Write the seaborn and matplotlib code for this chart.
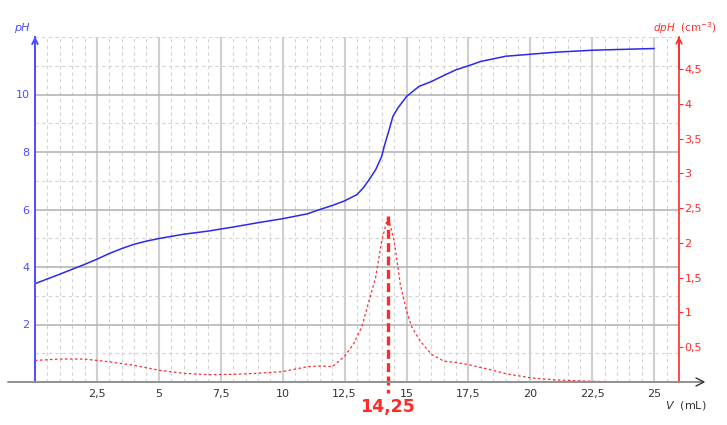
import matplotlib
matplotlib.use("Agg")
import matplotlib.pyplot as plt
import matplotlib.transforms as mtransforms
from matplotlib.ticker import MultipleLocator, FixedLocator, FixedFormatter
import pandas as pd
import seaborn as sns

# courbe pH = f(V)
v_ph = [0, 1, 2, 2.5, 3, 3.5, 4, 4.5, 5, 6, 7, 8, 9, 10, 11, 11.5, 12, 12.5, 13,
        13.25, 13.5, 13.75, 14, 14.1, 14.3, 14.45, 14.65, 15, 15.5, 16, 16.5, 17,
        17.5, 18, 19, 20, 21, 22.5, 23.75, 25]
ph = [3.42, 3.75, 4.09, 4.27, 4.47, 4.64, 4.79, 4.90, 4.99, 5.14, 5.25, 5.39, 5.54,
      5.68, 5.85, 6.0, 6.14, 6.3, 6.52, 6.75, 7.05, 7.38, 7.85, 8.2, 8.78, 9.24,
      9.53, 9.93, 10.28, 10.45, 10.66, 10.86, 11.0, 11.15, 11.33, 11.40, 11.47,
      11.54, 11.57, 11.6]

# courbe derivee dpH/dV
v_dph = [0, 1, 2, 2.5, 3, 4, 5, 6, 7, 8, 9, 10, 11, 11.5, 12, 12.5, 12.85, 13.2,
         13.45, 13.75, 14, 14.25, 14.5, 14.75, 15, 15.2, 15.55, 16, 16.5, 17, 17.5,
         18.35, 19, 20, 21, 22.5, 23.75, 25]
dph = [0.31, 0.33, 0.33, 0.31, 0.29, 0.24, 0.17, 0.125, 0.105, 0.11, 0.125, 0.15,
       0.22, 0.23, 0.22, 0.37, 0.54, 0.80, 1.12, 1.5, 2.03, 2.38, 2.03, 1.40, 1.02,
       0.80, 0.59, 0.40, 0.30, 0.28, 0.25, 0.18, 0.12, 0.06, 0.03, 0.01, 0.0, 0.0]

v_eq = 14.25
v_eq_label = "14,25"

x_ticks = [2.5, 5, 7.5, 10, 12.5, 15, 17.5, 20, 22.5, 25]
x_labels = ["2,5", "5", "7,5", "10", "12,5", "15", "17,5", "20", "22,5", "25"]
ph_ticks = [2, 4, 6, 8, 10]
dph_ticks = [0.5, 1, 1.5, 2, 2.5, 3, 3.5, 4, 4.5]
dph_labels = ["0,5", "1", "1,5", "2", "2,5", "3", "3,5", "4", "4,5"]

df_ph = pd.DataFrame({"V": v_ph, "pH": ph})
df_dph = pd.DataFrame({"V": v_dph, "dpH": dph})

sns.set_theme(style="white")
plt.rcParams["font.family"] = ["DejaVu Sans"]

blue = "#2a2aee"
blue_ax = "#4d4dff"
red = "#ff2a2a"

fig = plt.figure(figsize=(7.27, 4.25), dpi=100)
ax = fig.add_axes([35 / 727, 43 / 425, 644 / 727, 345 / 425])
ax.set_xlim(0, 26)
ax.set_ylim(0, 12)

# grille
ax.xaxis.set_major_locator(FixedLocator(x_ticks))
ax.xaxis.set_major_formatter(FixedFormatter(x_labels))
ax.xaxis.set_minor_locator(MultipleLocator(0.5))
ax.yaxis.set_major_locator(FixedLocator(ph_ticks))
ax.yaxis.set_minor_locator(MultipleLocator(1))
ax.grid(which="minor", color="#d2d2d2", linestyle=(0, (3, 3)), linewidth=0.8)
ax.grid(which="major", axis="x", color="#cfcfcf", linewidth=1.5)
ax.grid(which="major", axis="y", color="#b0b0b0", linewidth=1.1)
ax.set_axisbelow(True)

sns.lineplot(data=df_ph, x="V", y="pH", ax=ax, color=blue, linewidth=1.1,
             estimator=None)

for s in ["top", "right", "bottom"]:
    ax.spines[s].set_visible(False)
ax.spines["left"].set_color(blue_ax)
ax.spines["left"].set_linewidth(1.4)
ax.tick_params(axis="y", which="both", length=0, pad=4, colors=blue_ax, labelsize=8)
ax.tick_params(axis="x", which="both", length=0, pad=5, colors="#333333", labelsize=8)
ax.set_xlabel("")
ax.set_ylabel("")

# axe derive
ax2 = ax.twinx()
ax2.set_ylim(0, 4.96)
sns.lineplot(data=df_dph, x="V", y="dpH", ax=ax2, color=red, linewidth=0.9,
             linestyle=(0, (2, 2)), estimator=None)
ax2.set_xlim(0, 26)
ax2.yaxis.set_major_locator(FixedLocator(dph_ticks))
ax2.yaxis.set_major_formatter(FixedFormatter(dph_labels))
for s in ["top", "left", "bottom"]:
    ax2.spines[s].set_visible(False)
ax2.spines["right"].set_color(red)
ax2.spines["right"].set_linewidth(1.2)
ax2.tick_params(axis="y", length=3, width=0.8, colors=red, pad=1, labelsize=8,
                direction="out")
ax2.set_ylabel("")
ax2.set_xlabel("")

# trait d'equivalence
peak = max(dph)
ax2.plot([v_eq, v_eq], [peak, -0.16], color=red, linewidth=2.4,
         linestyle=(0, (2.7, 1.3)), clip_on=False)
trans = mtransforms.blended_transform_factory(ax.transData, fig.transFigure)
ax.text(v_eq, 1 - 407 / 425, v_eq_label, transform=trans, color=red,
        fontsize=12.5, fontweight="bold", ha="center", va="center")

# fleches des axes
ax.annotate("", xy=(0, 1.01), xytext=(0, 0.9), xycoords="axes fraction",
            arrowprops=dict(arrowstyle="->", color=blue_ax, lw=1.4,
                            mutation_scale=10))
ax2.annotate("", xy=(1, 1.01), xytext=(1, 0.9), xycoords="axes fraction",
             arrowprops=dict(arrowstyle="->", color=red, lw=1.2,
                             mutation_scale=10))
fig.add_artist(plt.Line2D([8 / 727, 703 / 727], [43 / 425, 43 / 425],
                          color="#909090", linewidth=1.4))
fig.add_artist(plt.Line2D([696 / 727, 704 / 727, 696 / 727],
                          [47 / 425, 43 / 425, 39 / 425],
                          color="#333333", linewidth=1.0))

# titres des axes
fig.text(22 / 727, 1 - 28 / 425, "pH", color=blue_ax, fontsize=8,
         style="italic", ha="center", va="center")
fig.text(685 / 727, 1 - 28 / 425, r"$\mathit{dpH}$  (cm$^{-3}$)", color=red,
         fontsize=7.5, ha="center", va="center")
fig.text(686 / 727, 1 - 406 / 425, r"$\mathit{V}$  (mL)", color="#333333",
         fontsize=8, ha="center", va="center")

fig.savefig("out.png", dpi=100)
